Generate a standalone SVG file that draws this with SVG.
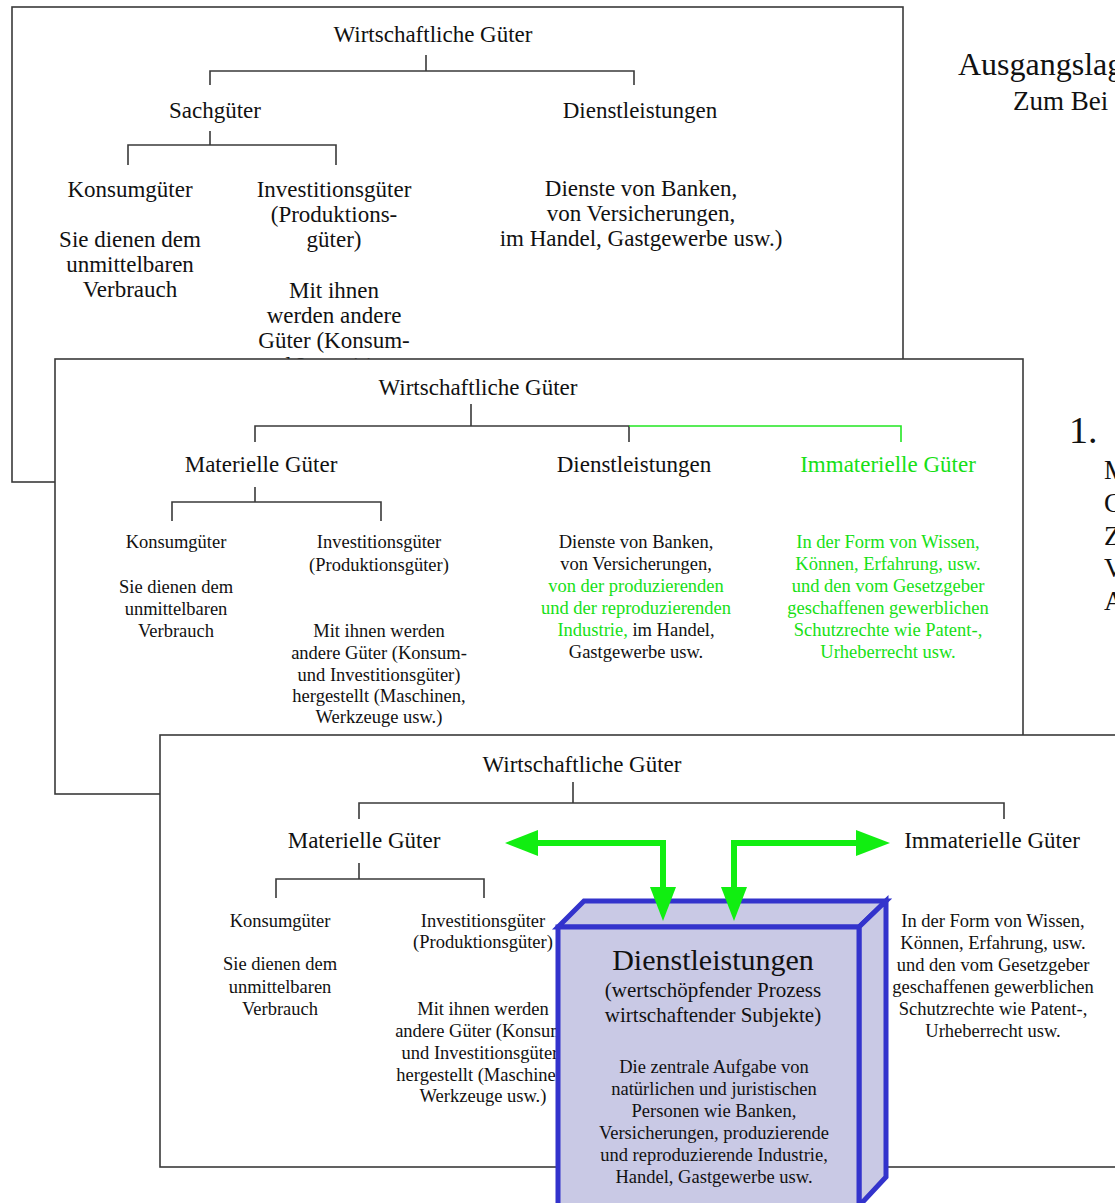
<svg xmlns="http://www.w3.org/2000/svg" width="1115" height="1203" viewBox="0 0 1115 1203">
  <style>
    text { font-family: "Liberation Serif", "Times New Roman", serif; fill: #111; }
    .h { font-size: 23px; text-anchor: middle; }
    .s { font-size: 18.5px; text-anchor: middle; }
    .g { fill: #16e016; }
    .panel { fill: #fff; stroke: #3a3a3a; stroke-width: 1.6; }
    .tree { fill: none; stroke: #3a3a3a; stroke-width: 1.6; }
    .tree-g { fill: none; stroke: #22e622; stroke-width: 1.6; }
    .arrow { fill: none; stroke: #11ee11; stroke-width: 6; }
    .head { fill: #11ee11; }
    .side { font-size: 27px; }
  </style>

  <!-- slide title fragments on the right -->
  <g id="side-text">
    <text x="958" y="75" style="font-size:32px">Ausgangslag</text>
    <text x="1013" y="110" style="font-size:27px">Zum Bei</text>
    <text x="1069" y="443" style="font-size:38px">1.</text>
    <text class="side" x="1104" y="479">M</text>
    <text class="side" x="1104" y="512">C</text>
    <text class="side" x="1104" y="545">Z</text>
    <text class="side" x="1104" y="577">V</text>
    <text class="side" x="1104" y="610">A</text>
  </g>

  <!-- first classification: Sachgüter / Dienstleistungen -->
  <g id="panel-1">
    <rect class="panel" x="12" y="7" width="891" height="475"/>
    <g class="connectors">
      <path class="tree" d="M426 55 V71 M210 85 V71 H634 V85 M210 131 V145 M128 165 V145 H336 V165"/>
    </g>
    <g id="p1-root"><text class="h" x="433" y="42">Wirtschaftliche Güter</text></g>
    <g id="p1-sach"><text class="h" x="215" y="118">Sachgüter</text></g>
    <g id="p1-dienst">
      <text class="h" x="640" y="118">Dienstleistungen</text>
      <text class="h" x="641" y="196">Dienste von Banken,</text>
      <text class="h" x="641" y="221">von Versicherungen,</text>
      <text class="h" x="641" y="246">im Handel, Gastgewerbe usw.)</text>
    </g>
    <g id="p1-konsum">
      <text class="h" x="130" y="197">Konsumgüter</text>
      <text class="h" x="130" y="247">Sie dienen dem</text>
      <text class="h" x="130" y="272">unmittelbaren</text>
      <text class="h" x="130" y="297">Verbrauch</text>
    </g>
    <g id="p1-invest">
      <text class="h" x="334" y="197">Investitionsgüter</text>
      <text class="h" x="334" y="222">(Produktions-</text>
      <text class="h" x="334" y="247">güter)</text>
      <text class="h" x="334" y="298">Mit ihnen</text>
      <text class="h" x="334" y="323">werden andere</text>
      <text class="h" x="334" y="348">Güter (Konsum-</text>
      <text class="h" x="334" y="373">und Investitions-</text>
    </g>
  </g>

  <!-- second classification: adds Immaterielle Güter -->
  <g id="panel-2">
    <rect class="panel" x="55" y="359" width="968" height="435"/>
    <g class="connectors">
      <path class="tree" d="M471 404 V426 M255 442 V426 H629 V442 M255 487 V502 M172 521 V502 H381 V521"/>
      <path class="tree-g" d="M629 426 H901 V442"/>
    </g>
    <g id="p2-root"><text class="h" x="478" y="395">Wirtschaftliche Güter</text></g>
    <g id="p2-mat"><text class="h" x="261" y="472">Materielle Güter</text></g>
    <g id="p2-dienst">
      <text class="h" x="634" y="472">Dienstleistungen</text>
      <text class="s" x="636" y="548">Dienste von Banken,</text>
      <text class="s" x="636" y="570">von Versicherungen,</text>
      <text class="s g" x="636" y="592">von der produzierenden</text>
      <text class="s g" x="636" y="614">und der reproduzierenden</text>
      <text class="s" x="636" y="636"><tspan class="g">Industrie,</tspan> im Handel,</text>
      <text class="s" x="636" y="658">Gastgewerbe usw.</text>
    </g>
    <g id="p2-immat">
      <text class="h g" x="888" y="472">Immaterielle Güter</text>
      <text class="s g" x="888" y="548">In der Form von Wissen,</text>
      <text class="s g" x="888" y="570">Können, Erfahrung, usw.</text>
      <text class="s g" x="888" y="592">und den vom Gesetzgeber</text>
      <text class="s g" x="888" y="614">geschaffenen gewerblichen</text>
      <text class="s g" x="888" y="636">Schutzrechte wie Patent-,</text>
      <text class="s g" x="888" y="658">Urheberrecht usw.</text>
    </g>
    <g id="p2-konsum">
      <text class="s" x="176" y="548">Konsumgüter</text>
      <text class="s" x="176" y="593">Sie dienen dem</text>
      <text class="s" x="176" y="615">unmittelbaren</text>
      <text class="s" x="176" y="637">Verbrauch</text>
    </g>
    <g id="p2-invest">
      <text class="s" x="379" y="548">Investitionsgüter</text>
      <text class="s" x="379" y="571">(Produktionsgüter)</text>
      <text class="s" x="379" y="637">Mit ihnen werden</text>
      <text class="s" x="379" y="659">andere Güter (Konsum-</text>
      <text class="s" x="379" y="681">und Investitionsgüter)</text>
      <text class="s" x="379" y="702">hergestellt (Maschinen,</text>
      <text class="s" x="379" y="723">Werkzeuge usw.)</text>
    </g>
  </g>

  <!-- third classification: services as the value-creating process -->
  <g id="panel-3">
    <rect class="panel" x="160" y="735" width="970" height="432"/>
    <g class="connectors">
      <path class="tree" d="M573 782 V803 M359 819 V803 H1004 V819 M359 863 V879 M276 898 V879 H484 V898"/>
    </g>
    <g id="p3-root"><text class="h" x="582" y="772">Wirtschaftliche Güter</text></g>
    <g id="p3-mat"><text class="h" x="364" y="848">Materielle Güter</text></g>
    <g id="p3-immat">
      <text class="h" x="992" y="848">Immaterielle Güter</text>
      <text class="s" x="993" y="927">In der Form von Wissen,</text>
      <text class="s" x="993" y="949">Können, Erfahrung, usw.</text>
      <text class="s" x="993" y="971">und den vom Gesetzgeber</text>
      <text class="s" x="993" y="993">geschaffenen gewerblichen</text>
      <text class="s" x="993" y="1015">Schutzrechte wie Patent-,</text>
      <text class="s" x="993" y="1037">Urheberrecht usw.</text>
    </g>
    <g id="p3-konsum">
      <text class="s" x="280" y="927">Konsumgüter</text>
      <text class="s" x="280" y="970">Sie dienen dem</text>
      <text class="s" x="280" y="993">unmittelbaren</text>
      <text class="s" x="280" y="1015">Verbrauch</text>
    </g>
    <g id="p3-invest">
      <text class="s" x="483" y="927">Investitionsgüter</text>
      <text class="s" x="483" y="948">(Produktionsgüter)</text>
      <text class="s" x="483" y="1015">Mit ihnen werden</text>
      <text class="s" x="483" y="1037">andere Güter (Konsum-</text>
      <text class="s" x="483" y="1059">und Investitionsgüter)</text>
      <text class="s" x="483" y="1081">hergestellt (Maschinen,</text>
      <text class="s" x="483" y="1102">Werkzeuge usw.)</text>
    </g>

    <!-- 3D block for Dienstleistungen -->
    <g id="p3-dienst-box">
      <polygon points="558,927 584,901 886,901 859,927" fill="#c9c9e5" stroke="#3333cc" stroke-width="5" stroke-linejoin="miter"/>
      <polygon points="859,927 886,901 886,1177 859,1206" fill="#c9c9e5" stroke="#3333cc" stroke-width="5"/>
      <rect x="558" y="927" width="301" height="290" fill="#c9c9e5" stroke="#3333cc" stroke-width="5"/>
      <text x="713" y="970" style="font-size:30px;text-anchor:middle">Dienstleistungen</text>
      <text x="713" y="997" style="font-size:21px;text-anchor:middle">(wertschöpfender Prozess</text>
      <text x="713" y="1022" style="font-size:21px;text-anchor:middle">wirtschaftender Subjekte)</text>
      <text class="s" x="714" y="1073">Die zentrale Aufgabe von</text>
      <text class="s" x="714" y="1095">natürlichen und juristischen</text>
      <text class="s" x="714" y="1117">Personen wie Banken,</text>
      <text class="s" x="714" y="1139">Versicherungen, produzierende</text>
      <text class="s" x="714" y="1161">und reproduzierende Industrie,</text>
      <text class="s" x="714" y="1183">Handel, Gastgewerbe usw.</text>
    </g>
  </g>

  <!-- green flow arrows between the service block and the goods -->
  <g id="connectors-flow">
    <path class="arrow" d="M663 890 V843 H536"/>
    <polygon class="head" points="505,843 538,830 538,856"/>
    <polygon class="head" points="650,887 676,887 663,921"/>
    <path class="arrow" d="M734 890 V843 H858"/>
    <polygon class="head" points="890,843 856,830 856,856"/>
    <polygon class="head" points="721,887 747,887 734,921"/>
  </g>
</svg>
